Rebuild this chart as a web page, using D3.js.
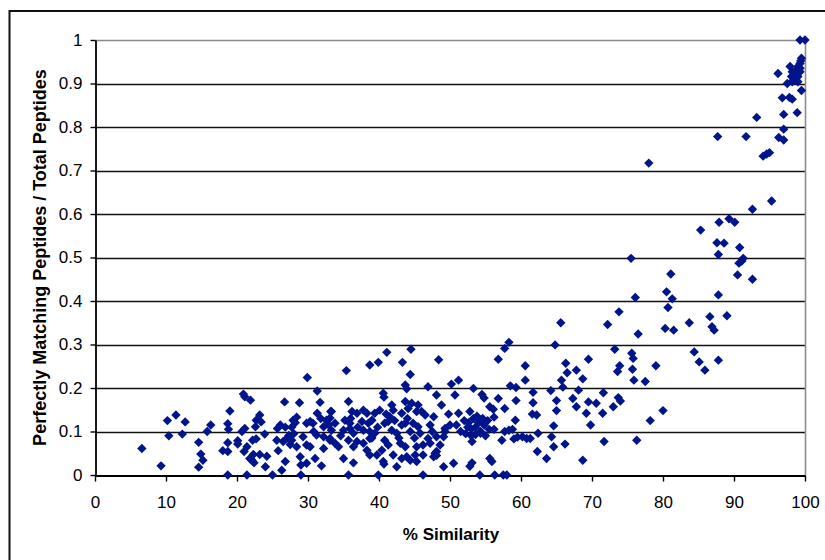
<!DOCTYPE html>
<html>
<head>
<meta charset="utf-8">
<script src="https://cdn.jsdelivr.net/npm/d3@7"></script>
<style>
  body { margin: 0; background: #fff; }
  svg { display: block; }
  text { font-family: "Liberation Sans", Arial, sans-serif; fill: #000; }
</style>
</head>
<body>
<svg id="chart" width="825" height="560"></svg>
<script>
// % similarity of each protein pair (x) and its share of perfectly matching peptides (y)
const similarity = [
  6.6, 9.3, 10.2, 10.4, 11.4, 12.3, 12.7, 14.6, 14.9, 15.2, 14.6, 15.8, 16.3, 18.0, 18.7, 18.7, 18.7, 18.8, 19.0, 18.7,
  20.1, 20.1, 20.7, 21.1, 20.9, 21.1, 21.9, 21.0, 21.4, 21.4, 21.8, 22.1, 22.4, 22.3, 22.2, 22.7, 22.6, 22.7, 23.2, 23.4,
  23.9, 23.2, 24.2, 24.0, 25.0, 25.7, 25.6, 25.8, 26.7, 26.8, 26.5, 26.8, 26.3, 27.3, 27.5, 27.7, 28.2, 28.8,
  27.9, 28.4, 27.0, 27.7, 29.9, 29.3, 29.8, 30.3, 30.7, 28.4, 29.8, 30.3, 28.9, 29.0, 29.8, 29.0, 31.3, 31.7, 31.3, 32.2,
  32.9, 32.2, 31.2, 32.2, 33.1, 31.0, 31.9, 33.2, 32.6, 26.1,
  35.4, 38.7, 39.9, 41.1, 43.3, 44.5, 44.4, 40.7, 43.9, 48.4,
  43.7, 46.9, 40.6, 48.1, 35.7, 41.8, 43.7, 44.6, 45.5, 48.8, 33.3, 36.2, 36.9, 37.8, 38.3, 40.1, 41.5, 43.2, 46.0, 46.5,
  47.7, 33.1, 33.8, 35.2, 35.9, 37.6, 38.5, 39.0, 40.8, 41.3, 43.2, 43.7, 44.8, 45.5, 47.2, 49.3, 33.3, 35.0, 35.9, 36.4,
  37.8, 38.7, 39.4, 41.8, 42.5, 44.4, 45.8, 46.9, 48.1, 33.1, 33.8, 34.3, 35.7, 36.9, 36.4, 37.8, 38.7, 40.8, 41.3, 43.0,
  43.7, 45.3, 46.2, 48.6, 38.3, 40.4, 42.0, 43.2, 44.4, 45.3, 48.1, 35.0, 36.4, 40.6, 49.1, 35.7, 39.9, 46.2,
  39.4, 42.0, 44.1, 45.3, 40.7, 42.5, 43.9, 45.1, 46.2, 47.7, 38.7, 39.7,
  37.0, 39.8, 42.2, 44.0, 36.0, 41.0, 39.0, 42.8, 34.6, 45.0, 47.5, 30.8, 31.8, 28.0,
  65.6, 72.2, 58.3, 57.7, 64.8, 56.8, 60.6, 66.3, 69.5, 66.5, 67.8, 65.7, 65.9, 68.7, 51.2, 50.2, 60.6, 58.5, 59.3, 53.3,
  64.2, 68.1, 71.6, 61.7, 50.7, 54.5, 54.8, 56.8, 67.3, 65.0, 59.3, 61.7, 69.5, 70.6, 55.6, 56.1, 67.8, 57.7, 65.0, 49.8,
  51.2, 52.8, 62.2, 61.6, 59.2, 69.2, 71.5, 53.3, 56.2, 50.0, 50.9, 52.5, 53.0, 53.6, 54.3, 64.6, 69.8, 49.3, 53.0, 53.6,
  54.3, 55.0, 58.3, 57.7, 58.8, 56.2, 62.4, 57.3, 59.0, 59.5, 60.2, 60.8, 61.3, 64.3, 53.1, 47.2, 49.1, 64.6, 66.2, 71.7,
  47.9, 48.1, 62.3, 55.6, 55.9, 53.1, 52.8, 63.6, 68.7, 50.5, 54.2, 56.3, 57.5, 58.0,
  52.0, 52.6, 54.0, 54.8, 55.5, 53.8, 52.2, 51.5, 55.3, 54.6,
  78.0, 94.1, 94.6, 95.0, 95.3, 92.6, 87.9, 89.3, 90.1, 85.3, 87.6, 88.6, 87.8, 90.8, 91.3, 91.1, 90.7, 75.5, 90.5, 92.6,
  81.1, 80.5, 81.3, 80.7, 76.1, 87.8, 73.8, 76.5, 80.3, 81.5, 83.7, 86.6, 86.9, 87.2, 89.0, 73.2, 75.6, 75.8, 73.9, 73.6,
  75.7, 79.0, 75.9, 77.5, 84.4, 85.1, 85.9, 87.8, 73.7, 74.0, 73.0, 80.0, 78.2, 76.3,
  99.3, 100, 99.5, 96.2, 97.5, 98.2, 99.5, 96.8, 97.8, 98.2, 97.0, 98.9, 93.2, 97.0, 96.3, 97.0, 87.7, 91.7,
  99.3, 99.0, 98.8, 98.6, 99.3, 99.0, 98.6, 98.1, 97.9, 99.0, 98.4, 99.3, 99.4, 98.8, 98.2
];
const matchRatio = [
  0.061, 0.021, 0.125, 0.090, 0.138, 0.094, 0.122, 0.075, 0.048, 0.034, 0.018, 0.100, 0.115, 0.056, 0.054, 0.074, 0.118, 0.105, 0.147, 0.000,
  0.079, 0.071, 0.100, 0.107, 0.186, 0.180, 0.172, 0.054, 0.065, 0.000, 0.038, 0.034, 0.028, 0.047, 0.080, 0.083, 0.111, 0.126, 0.138, 0.122,
  0.094, 0.047, 0.043, 0.019, 0.000, 0.107, 0.080, 0.056, 0.168, 0.110, 0.077, 0.031, 0.011, 0.091, 0.070, 0.110, 0.120, 0.166,
  0.126, 0.133, 0.084, 0.080, 0.224, 0.088, 0.119, 0.123, 0.119, 0.065, 0.069, 0.065, 0.042, 0.023, 0.027, 0.000, 0.193, 0.167, 0.142, 0.111,
  0.115, 0.088, 0.092, 0.061, 0.080, 0.038, 0.021, 0.146, 0.126, 0.115,
  0.240, 0.253, 0.259, 0.282, 0.259, 0.289, 0.231, 0.179, 0.198, 0.265,
  0.207, 0.203, 0.188, 0.184, 0.169, 0.161, 0.169, 0.165, 0.161, 0.161, 0.146, 0.146, 0.142, 0.149, 0.142, 0.149, 0.134, 0.142, 0.146, 0.138,
  0.134, 0.131, 0.119, 0.126, 0.119, 0.123, 0.119, 0.126, 0.119, 0.123, 0.115, 0.119, 0.119, 0.111, 0.115, 0.107, 0.103, 0.103, 0.107, 0.096,
  0.103, 0.100, 0.096, 0.103, 0.096, 0.100, 0.096, 0.084, 0.088, 0.084, 0.073, 0.065, 0.080, 0.077, 0.065, 0.073, 0.084, 0.080, 0.069, 0.073,
  0.065, 0.065, 0.069, 0.069, 0.057, 0.057, 0.046, 0.038, 0.034, 0.031, 0.054, 0.038, 0.028, 0.031, 0.019, 0.000, 0.000, 0.000,
  0.142, 0.149, 0.153, 0.146, 0.025, 0.019, 0.042, 0.046, 0.046, 0.042, 0.046, 0.046,
  0.110, 0.110, 0.125, 0.130, 0.130, 0.140, 0.085, 0.085, 0.090, 0.085, 0.100, 0.100, 0.130, 0.095,
  0.350, 0.346, 0.305, 0.291, 0.299, 0.266, 0.251, 0.257, 0.266, 0.235, 0.241, 0.218, 0.202, 0.221, 0.218, 0.209, 0.218, 0.205, 0.201, 0.199,
  0.194, 0.195, 0.189, 0.190, 0.184, 0.185, 0.177, 0.176, 0.176, 0.171, 0.171, 0.166, 0.168, 0.165, 0.157, 0.151, 0.157, 0.153, 0.148, 0.140,
  0.142, 0.146, 0.138, 0.140, 0.126, 0.142, 0.142, 0.130, 0.133, 0.115, 0.115, 0.110, 0.106, 0.110, 0.100, 0.113, 0.115, 0.100, 0.090, 0.093,
  0.096, 0.090, 0.103, 0.100, 0.105, 0.105, 0.096, 0.080, 0.083, 0.087, 0.088, 0.084, 0.084, 0.088, 0.077, 0.073, 0.088, 0.065, 0.071, 0.077,
  0.050, 0.045, 0.054, 0.038, 0.031, 0.028, 0.020, 0.038, 0.034, 0.027, 0.000, 0.000, 0.000, 0.000,
  0.125, 0.120, 0.120, 0.115, 0.105, 0.135, 0.095, 0.100, 0.125, 0.130,
  0.717, 0.733, 0.738, 0.741, 0.630, 0.611, 0.581, 0.589, 0.581, 0.563, 0.534, 0.533, 0.507, 0.523, 0.498, 0.492, 0.487, 0.498, 0.460, 0.450,
  0.462, 0.421, 0.405, 0.385, 0.408, 0.414, 0.375, 0.324, 0.337, 0.333, 0.350, 0.364, 0.341, 0.333, 0.366, 0.289, 0.280, 0.268, 0.251, 0.238,
  0.243, 0.251, 0.218, 0.215, 0.283, 0.260, 0.241, 0.264, 0.178, 0.170, 0.157, 0.148, 0.125, 0.080,
  1.000, 1.000, 0.958, 0.923, 0.900, 0.904, 0.884, 0.867, 0.868, 0.864, 0.829, 0.833, 0.822, 0.795, 0.776, 0.770, 0.778, 0.778,
  0.946, 0.939, 0.931, 0.923, 0.927, 0.916, 0.912, 0.916, 0.939, 0.904, 0.908, 0.935, 0.952, 0.919, 0.927
];

const xTicks = [0, 10, 20, 30, 40, 50, 60, 70, 80, 90, 100];
const yTicks = [0, 0.1, 0.2, 0.3, 0.4, 0.5, 0.6, 0.7, 0.8, 0.9, 1];
const yTickLabels = ["0", "0.1", "0.2", "0.3", "0.4", "0.5", "0.6", "0.7", "0.8", "0.9", "1"];
const xTitle = "% Similarity";
const yTitle = "Perfectly Matching Peptides / Total Peptides";

const svg = d3.select("#chart");
const plot = { left: 95, right: 805, top: 40, bottom: 475 };

const x = d3.scaleLinear().domain([0, 100]).range([plot.left, plot.right]);
const y = d3.scaleLinear().domain([0, 1]).range([plot.bottom, plot.top]);

// outer chart frame (runs past the right and bottom edges)
svg.append("rect")
  .attr("x", 9.5).attr("y", 11)
  .attr("width", 900).attr("height", 600)
  .attr("fill", "none").attr("stroke", "#111").attr("stroke-width", 2);

// horizontal gridlines
svg.append("g")
  .selectAll("line")
  .data(yTicks.filter(t => t > 0))
  .join("line")
  .attr("x1", plot.left).attr("x2", plot.right)
  .attr("y1", d => Math.round(y(d)) + 0.5).attr("y2", d => Math.round(y(d)) + 0.5)
  .attr("stroke", d => d === 1 ? "#8c8c8c" : "#111")
  .attr("stroke-width", 1.6);

// right edge of the plot area
svg.append("line")
  .attr("x1", plot.right + 0.5).attr("x2", plot.right + 0.5)
  .attr("y1", plot.top).attr("y2", plot.bottom)
  .attr("stroke", "#8c8c8c").attr("stroke-width", 1.6);

// axes
const xAxis = svg.append("g")
  .attr("transform", `translate(0,${plot.bottom + 0.5})`)
  .call(d3.axisBottom(x).tickValues(xTicks).tickFormat(d3.format("d"))
    .tickSize(6).tickSizeOuter(0).tickPadding(14));
const yAxis = svg.append("g")
  .attr("transform", `translate(${plot.left + 0.5},0)`)
  .call(d3.axisLeft(y).tickValues(yTicks).tickFormat((d, i) => yTickLabels[i])
    .tickSize(5).tickSizeOuter(0).tickPadding(8));

[xAxis, yAxis].forEach(g => {
  g.select(".domain").attr("stroke", "#000").attr("stroke-width", 1.8);
  g.selectAll(".tick line").attr("stroke", "#000").attr("stroke-width", 1.4);
  g.selectAll(".tick text")
    .attr("font-family", "'Liberation Sans', Arial, sans-serif")
    .attr("font-size", 17).attr("fill", "#000");
});

// axis titles
svg.append("text")
  .attr("x", (plot.left + plot.right) / 2 + 1).attr("y", 540)
  .attr("text-anchor", "middle")
  .attr("font-size", 17).attr("font-weight", "bold")
  .text(xTitle);

svg.append("text")
  .attr("transform", `translate(46,${(plot.top + plot.bottom) / 2}) rotate(-90)`)
  .attr("text-anchor", "middle")
  .attr("font-size", 18).attr("font-weight", "bold")
  .text(yTitle);

// diamond markers
const diamond = d3.symbol().type(d3.symbolSquare).size(44);
svg.append("g")
  .selectAll("path")
  .data(d3.range(similarity.length))
  .join("path")
  .attr("d", diamond)
  .attr("transform", i => `translate(${x(similarity[i])},${y(matchRatio[i])}) rotate(45)`)
  .attr("fill", "#00148c");
</script>
</body>
</html>
